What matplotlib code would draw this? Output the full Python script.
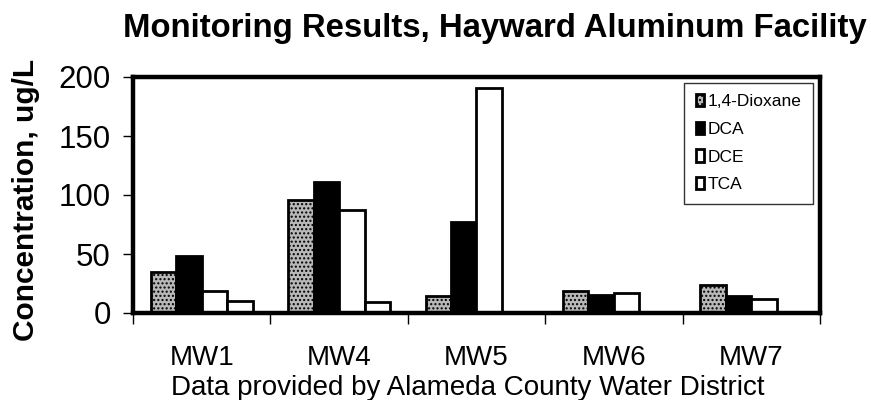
import matplotlib.pyplot as plt
import numpy as np

plt.rcParams["font.family"] = ["Liberation Sans", "DejaVu Sans"]
plt.rcParams["hatch.linewidth"] = 1.0

wells = ["MW1", "MW4", "MW5", "MW6", "MW7"]
dioxane = [35, 96, 14, 19, 24]
dca = [48, 111, 77, 15, 14]
dce = [19, 87, 191, 17, 12]
tca = [10, 9, 0, 0, 0]

series = [
    ("1,4-Dioxane", dioxane, dict(facecolor="#b8b8b8", hatch="....")),
    ("DCA", dca, dict(facecolor="black")),
    ("DCE", dce, dict(facecolor="white")),
    ("TCA", tca, dict(facecolor="white")),
]

fig = plt.figure(figsize=(8.71, 4.0), dpi=100)
ax = fig.add_axes([0.1527, 0.2175, 0.7887, 0.59])

x = np.arange(len(wells))
w = 0.185
for i, (name, vals, style) in enumerate(series):
    ax.bar(x - 1.5 * w + i * w, vals, w, edgecolor="black", linewidth=2.0,
           label=name, **style)

ax.set_xlim(-0.5, len(wells) - 0.5)
ax.set_ylim(0, 200)
ax.set_yticks([0, 50, 100, 150, 200])
ax.tick_params(axis="y", labelsize=22.5, length=7, width=1, direction="out", pad=9)

# well names sit between the boundary ticks
ax.set_xticks(np.arange(-0.5, len(wells), 1.0))
ax.set_xticklabels([])
ax.set_xticks(x, minor=True)
ax.set_xticklabels(wells, minor=True, fontsize=20)
ax.tick_params(axis="x", which="major", length=8, width=1, direction="out")
ax.tick_params(axis="x", which="minor", length=0, pad=23)

for s in ax.spines.values():
    s.set_linewidth(3.2)

ax.set_ylabel("Concentration, ug/L", fontsize=21.5, fontweight="bold")
ax.yaxis.set_label_coords(-0.135, 0.48)

ax.set_xlabel("Data provided by Alameda County Water District", fontsize=20)
ax.xaxis.set_label_coords(0.488, -0.347)
ax.xaxis.label.set_verticalalignment("baseline")

ax.set_title("Monitoring Results, Hayward Aluminum Facility", fontsize=23.7,
             fontweight="bold", x=0.526, y=1.169, pad=0,
             verticalalignment="baseline")

leg = ax.legend(loc="upper right", bbox_to_anchor=(0.99, 0.975), fontsize=12.5,
                frameon=True, fancybox=False, edgecolor="black",
                handlelength=0.5, handleheight=0.7, handletextpad=0.2,
                labelspacing=0.72, borderpad=0.65, borderaxespad=0)
leg.get_frame().set_linewidth(1.0)

fig.savefig("out.png", dpi=100)
